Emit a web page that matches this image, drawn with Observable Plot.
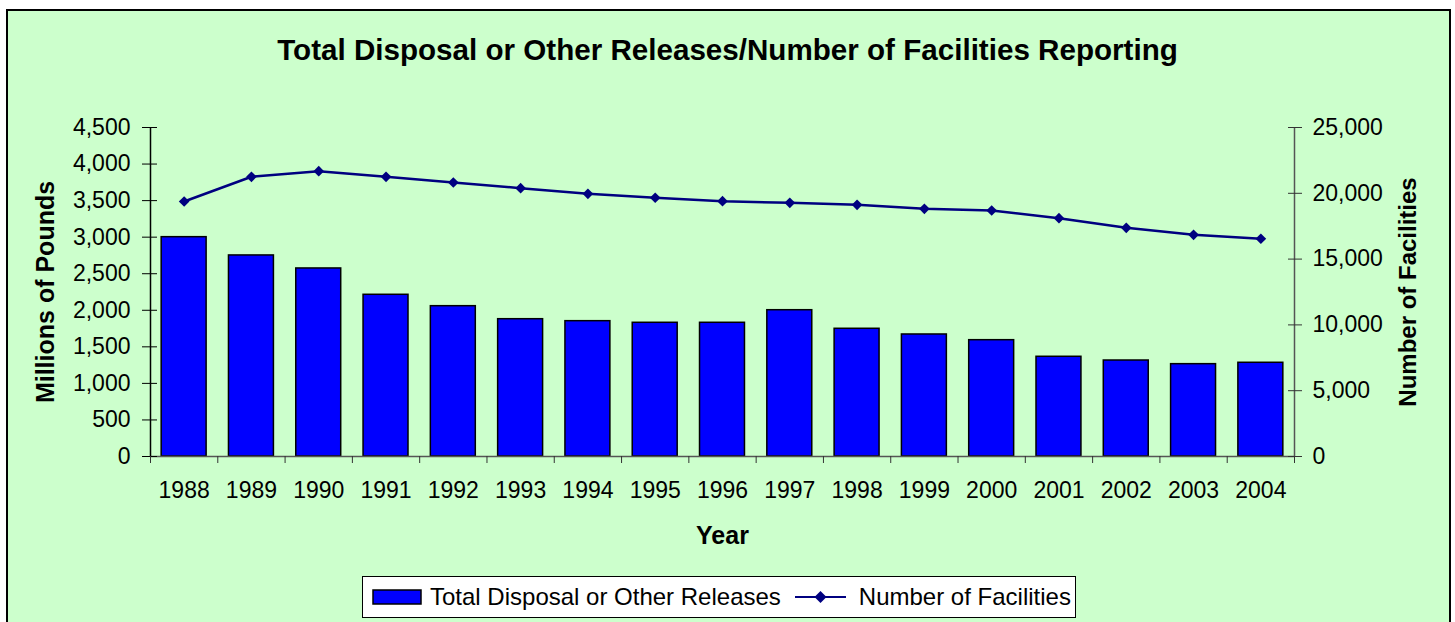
<!DOCTYPE html>
<html>
<head>
<meta charset="utf-8">
<script src="https://cdn.jsdelivr.net/npm/d3@7"></script>
<script src="https://cdn.jsdelivr.net/npm/@observablehq/plot@0.6"></script>
<style>
  html, body { margin: 0; padding: 0; background: #ffffff; }
  #wrap { position: relative; width: 1455px; height: 622px; overflow: hidden; font-family: Arial, "Liberation Sans", sans-serif; }
  #frame { position: absolute; left: 6px; top: 9px; width: 1441px; height: 640px; background: #CCFFCC; border: 2px solid #000; }
  #title { position: absolute; left: 6px; width: 1443px; top: 33px; line-height: 34px; text-align: center; font-weight: bold; font-size: 29.6px; color: #000; }
  #chart { position: absolute; left: 0; top: 0; }
  #legend { position: absolute; left: 362px; top: 576px; width: 712px; height: 40px; background: #fff; border: 1.5px solid #000; display: flex; align-items: center; font-size: 24px; color: #000; white-space: nowrap; }
  #legend svg { display: block; }
</style>
</head>
<body>
<div id="wrap">
  <div id="frame"></div>
  <div id="title">Total Disposal or Other Releases/Number of Facilities Reporting</div>
  <div id="chart"></div>
  <div id="legend">
    <svg width="58" height="16" style="margin-left:9px"><rect x="1" y="1" width="48" height="14" fill="#0000FF" stroke="#000" stroke-width="1.5"/></svg>
    <span id="lg1"></span>
    <svg width="66" height="16" style="margin-left:12px"><line x1="2" y1="8" x2="53" y2="8" stroke="#000080" stroke-width="2"/><path d="M27.5,2 L33.5,8 L27.5,14 L21.5,8 Z" fill="#000080"/></svg>
    <span id="lg2"></span>
  </div>
</div>
<script>
// ---- data ----
const years = [1988, 1989, 1990, 1991, 1992, 1993, 1994, 1995, 1996, 1997, 1998, 1999, 2000, 2001, 2002, 2003, 2004];
const releases = [3000, 2750, 2572, 2212, 2056, 1878, 1851, 1829, 1829, 2001, 1747, 1669, 1591, 1364, 1313, 1263, 1282];
const facilities = [19378, 21254, 21681, 21254, 20821, 20390, 19962, 19659, 19403, 19277, 19125, 18822, 18694, 18112, 17378, 16846, 16543];
const poundsTicks = [0, 500, 1000, 1500, 2000, 2500, 3000, 3500, 4000, 4500];
const facilityTicks = [0, 5000, 10000, 15000, 20000, 25000];
const seriesNames = ["Total Disposal or Other Releases", "Number of Facilities"];
const titles = { y: "Millions of Pounds", y2: "Number of Facilities", x: "Year" };

document.getElementById("lg1").textContent = seriesNames[0];
document.getElementById("lg2").textContent = seriesNames[1];

const data = years.map((year, i) => ({ year, pounds: releases[i], facilities: facilities[i] }));
const yMax = poundsTicks[poundsTicks.length - 1];
const y2Max = facilityTicks[facilityTicks.length - 1];
const ratio = yMax / y2Max;
const half = 0.334;
const xLo = years[0] - 0.5, xHi = years[years.length - 1] + 0.5;
const bounds = [xLo, ...years.map(y => y + 0.5)];
const fmt = d3.format(",");

const chart = Plot.plot({
  width: 1455,
  height: 622,
  marginLeft: 150,
  marginRight: 161,
  marginTop: 127,
  marginBottom: 166,
  x: { domain: [xLo, xHi] },
  y: { domain: [0, yMax] },
  style: { background: "transparent", fontFamily: "Arial, 'Liberation Sans', sans-serif", fontSize: "23px", color: "#000" },
  marks: [
    Plot.rectY(data, { x1: d => d.year - half, x2: d => d.year + half, y1: 0, y2: "pounds", fill: "#0000FF", stroke: "#000", strokeWidth: 1.5 }),
    Plot.ruleY([0], { stroke: "#555", strokeWidth: 1.5 }),
    Plot.ruleX([xLo], { stroke: "#000", strokeWidth: 1.5 }),
    Plot.ruleX([xHi], { stroke: "#555", strokeWidth: 1.5 }),
    Plot.line(data, { x: "year", y: d => d.facilities * ratio, stroke: "#000080", strokeWidth: 2.5 }),
    Plot.dot(data, { x: "year", y: d => d.facilities * ratio, symbol: "diamond2", r: 4.8, fill: "#000080", stroke: "none" }),
    // left axis
    Plot.axisY({ anchor: "left", ticks: poundsTicks, tickSize: 8, tickPadding: 12, tickFormat: fmt, label: null, stroke: "#000" }),
    Plot.axisY({ anchor: "left", ticks: poundsTicks, tickSize: -7, tickFormat: () => "", label: null, stroke: "#000" }),
    // right axis
    Plot.axisY({ anchor: "right", ticks: facilityTicks.map(v => v * ratio), tickSize: 7, tickPadding: 11, tickFormat: d => fmt(Math.round(d / ratio)), label: null, stroke: "#333" }),
    Plot.axisY({ anchor: "right", ticks: facilityTicks.map(v => v * ratio), tickSize: -7, tickFormat: () => "", label: null, stroke: "#333" }),
    // x axis
    Plot.axisX({ ticks: bounds, tickSize: 7, tickFormat: () => "", label: null, stroke: "#333" }),
    Plot.axisX({ ticks: years, tickSize: 0, tickPadding: 25, tickFormat: d => String(d), label: null }),
    // axis titles
    Plot.text([titles.y], { frameAnchor: "left", dx: -105, rotate: -90, textAnchor: "middle", lineAnchor: "middle", fontWeight: "bold", fontSize: 25, fill: "#000" }),
    Plot.text([titles.y2], { frameAnchor: "right", dx: 114, rotate: -90, textAnchor: "middle", lineAnchor: "middle", fontWeight: "bold", fontSize: 24, fill: "#000" }),
    Plot.text([titles.x], { frameAnchor: "bottom", dy: 79, textAnchor: "middle", lineAnchor: "middle", fontWeight: "bold", fontSize: 25, fill: "#000" })
  ]
});
document.getElementById("chart").appendChild(chart);
</script>
</body>
</html>
